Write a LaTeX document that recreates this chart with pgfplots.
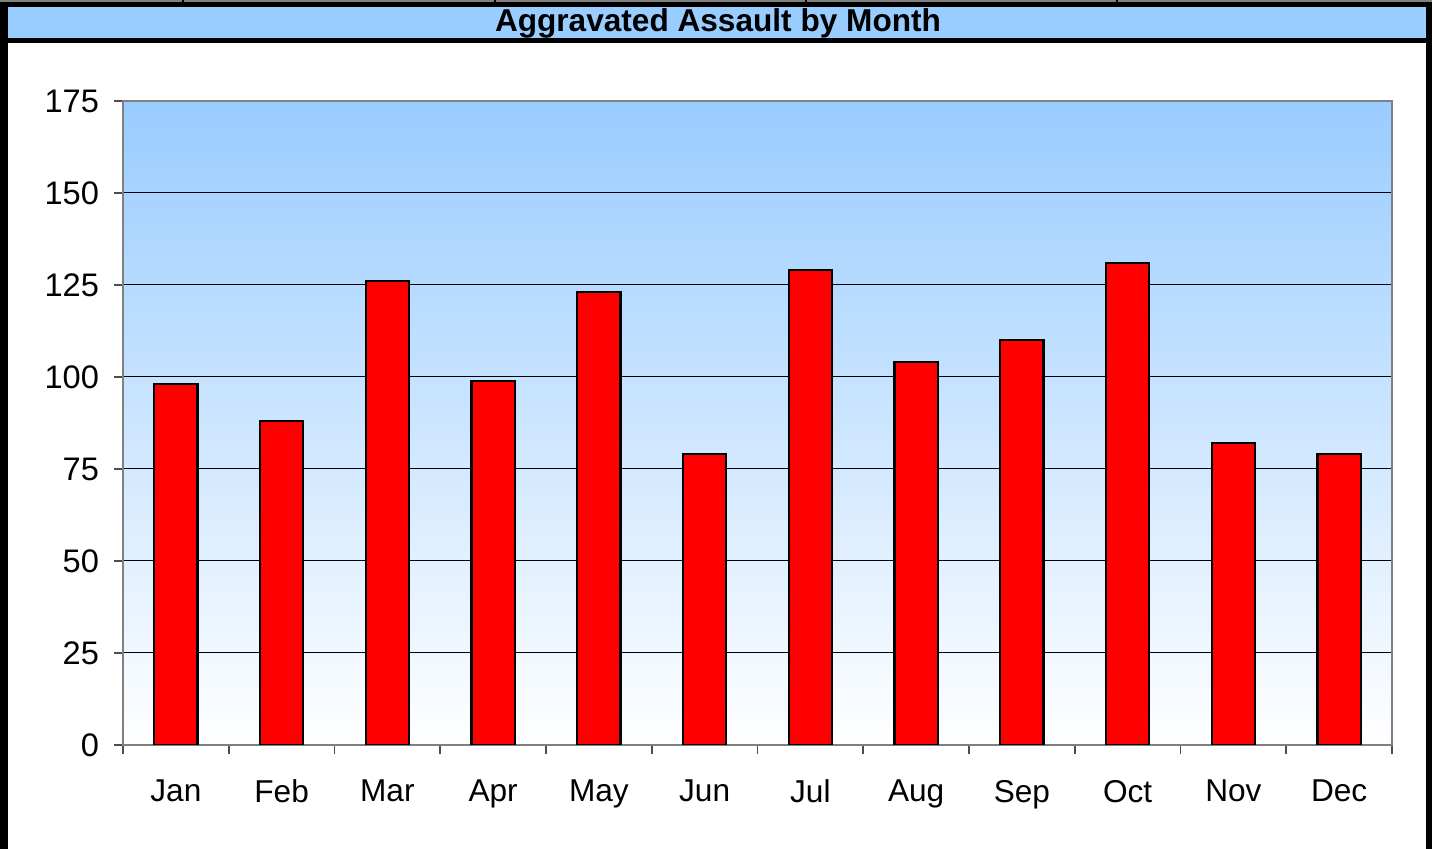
\documentclass[border=0pt]{standalone}
\usepackage{pgfplots}
\pgfplotsset{compat=1.18}
\usepackage{fontspec}
\setmainfont{Liberation Sans}
\definecolor{titleblue}{RGB}{153,204,255}
\definecolor{axgray}{RGB}{128,128,128}
\begin{document}
\begin{tikzpicture}
\begin{scope}[x=0.5pt,y=-0.5pt]
\useasboundingbox (0,0) rectangle (1432,849);
\fill[white] (0,0) rectangle (1432,849);
\draw[axgray,line width=1pt] (0,1) -- (1432,1);
\foreach \xx in {183,495,806,1117} {\draw[black,line width=0.8pt] (\xx,0) -- (\xx,4);}
\fill[black] (0,2) rectangle (1432,7);
\fill[titleblue] (8,7) rectangle (1426,38);
\fill[black] (0,38) rectangle (1432,43);
\fill[black] (0,2) rectangle (8,849);
\fill[black] (1426,2) rectangle (1432,849);
\node[font=\bfseries\fontsize{15.8}{17}\selectfont] at (718,23) {Aggravated Assault by Month};
\end{scope}
\begin{axis}[
  at={(61.5pt,-372.5pt)}, anchor=south west,
  scale only axis, width=634.5pt, height=322pt,
  xmin=0.5, xmax=12.5, ymin=0, ymax=175,
  xtick={1,...,12},
  xticklabels={Jan,Feb,Mar,Apr,May,Jun,Jul,Aug,Sep,Oct,Nov,Dec},
  minor xtick={0.5,1.5,...,12.5},
  ytick={0,25,...,175},
  minor ytick={0,25,...,175},
  major tick length=0pt, minor tick length=4.5pt,
  tick align=outside, tick pos=left,
  tick style={axgray!60!black, line width=0.8pt},
  axis line style={axgray, line width=1pt},
  ymajorgrids, grid style={black, line width=0.5pt},
  axis background/.style={shade, top color=titleblue, bottom color=white},
  /pgf/number format/assume math mode=true,
  x tick label style={font=\fontsize{15.8}{18}\selectfont, yshift=-14pt},
  y tick label style={font=\fontsize{16.3}{18}\selectfont, xshift=-8.5pt},
]
\addplot[ybar, bar width=0.41, fill=red, draw=black, line width=1.1pt]
 coordinates {(1,98) (2,88) (3,126) (4,99) (5,123) (6,79) (7,129) (8,104) (9,110) (10,131) (11,82) (12,79)};
\end{axis}
\end{tikzpicture}
\end{document}
